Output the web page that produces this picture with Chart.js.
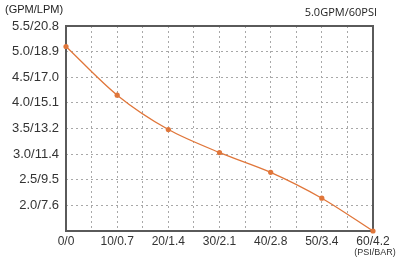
<!DOCTYPE html>
<html>
<head>
<meta charset="utf-8">
<script src="https://cdn.jsdelivr.net/npm/chart.js@4/dist/chart.umd.min.js"></script>
<style>
  html, body { margin: 0; padding: 0; background: #fff; }
  #wrap { width: 399px; height: 264px; position: relative; }
</style>
</head>
<body>
<div id="wrap"><canvas id="flowChart"></canvas></div>
<script>
// pressure (PSI) vs flow (GPM)
const pressure = [0, 10, 20, 30, 40, 50, 60];
const flow = [5.10, 4.15, 3.48, 3.03, 2.645, 2.14, 1.5];

const xTickLabels = ['0/0', '10/0.7', '20/1.4', '30/2.1', '40/2.8', '50/3.4', '60/4.2'];
const yTickValues = [2.0, 2.5, 3.0, 3.5, 4.0, 4.5, 5.0, 5.5];
const yTickLabels = ['2.0/7.6', '2.5/9.5', '3.0/11.4', '3.5/13.2', '4.0/15.1', '4.5/17.0', '5.0/18.9', '5.5/20.8'];

const orange = '#e0763a';

const extraText = {
    id: 'extraText',
    beforeDatasetsDraw(chart) {
        const { ctx, chartArea: a } = chart;
        ctx.save();
        ctx.strokeStyle = '#5a5a5a';
        ctx.lineWidth = 2;
        ctx.strokeRect(a.left, a.top, a.right - a.left, a.bottom - a.top);
        ctx.restore();
    },
    afterDraw(chart) {
        const { ctx } = chart;
        const xs = chart.scales.x;
        ctx.save();
        ctx.fillStyle = '#222';
        ctx.textBaseline = 'middle';
        ctx.font = '11px "Liberation Sans", Arial, sans-serif';
        ctx.textAlign = 'left';
        ctx.fillText('(GPM/LPM)', 5, 10);
        ctx.font = '11px "Open Sans", sans-serif';
        ctx.textAlign = 'right';
        ctx.fillText('5.0GPM/60PSI', 377, 13);
        ctx.font = '9px "Liberation Sans", Arial, sans-serif';
        ctx.textAlign = 'center';
        ctx.fillStyle = '#333';
        ctx.fillText('(PSI/BAR)', xs.getPixelForValue(60) + 2, 253);
        ctx.restore();
    }
};

new Chart(document.getElementById('flowChart'), {
    type: 'line',
    data: {
        datasets: [{
            data: pressure.map((p, i) => ({ x: p, y: flow[i] })),
            borderColor: orange,
            backgroundColor: orange,
            borderWidth: 1.3,
            tension: 0.3,
            pointRadius: 2.6,
            pointBorderWidth: 0,
            clip: false
        }]
    },
    options: {
        responsive: true,
        maintainAspectRatio: false,
        animation: false,
        layout: { padding: { top: 26, right: 26, left: 0, bottom: 0 } },
        plugins: {
            legend: { display: false },
            tooltip: { enabled: false }
        },
        scales: {
            x: {
                type: 'linear',
                min: 0,
                max: 60,
                afterFit: (s) => { s.height = 33; },
                grid: { color: '#a8a8a8', drawTicks: false },
                border: { display: false, dash: [2, 3] },
                ticks: {
                    stepSize: 5,
                    autoSkip: false,
                    maxRotation: 0,
                    padding: 3,
                    color: '#333',
                    font: { family: '"Liberation Sans", Arial, sans-serif', size: 12 },
                    callback: (v) => (v % 10 === 0 ? xTickLabels[v / 10] : '')
                }
            },
            y: {
                min: 1.5,
                max: 5.5,
                afterFit: (s) => { s.width = 66; },
                grid: { color: '#a8a8a8', drawTicks: false },
                border: { display: false, dash: [2, 3] },
                ticks: {
                    stepSize: 0.5,
                    autoSkip: false,
                    padding: 7,
                    color: '#333',
                    font: { family: '"Liberation Sans", Arial, sans-serif', size: 13 },
                    callback: (v) => {
                        const i = yTickValues.findIndex((t) => Math.abs(t - v) < 1e-6);
                        return i >= 0 ? yTickLabels[i] : '';
                    }
                }
            }
        }
    },
    plugins: [extraText]
});
</script>
</body>
</html>
